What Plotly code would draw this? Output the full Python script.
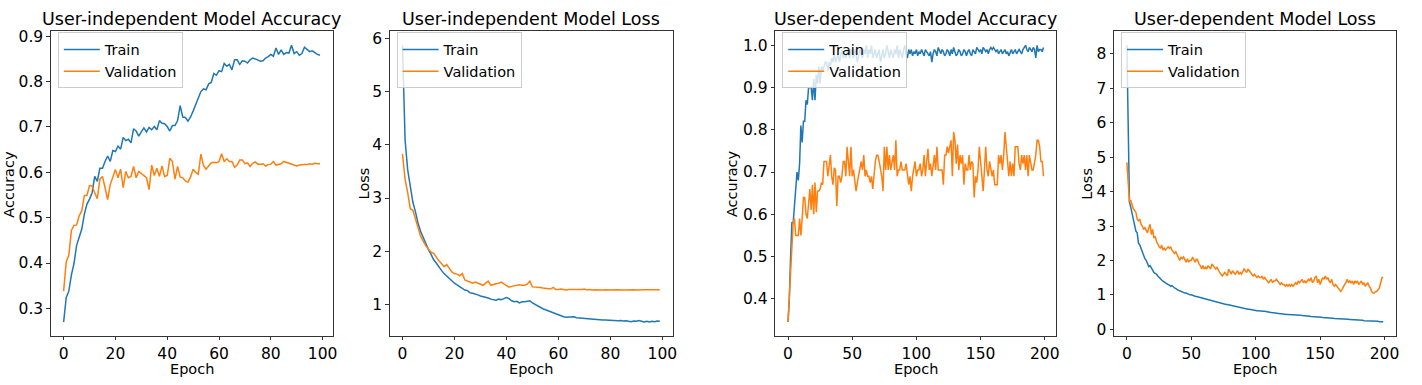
import plotly.graph_objects as go

# ---------------- data ----------------
ui_acc_train = [
    0.270, 0.324, 0.338, 0.374, 0.399, 0.439, 0.457, 0.475, 0.508, 0.530,
    0.541, 0.555, 0.591, 0.580, 0.609, 0.609, 0.624, 0.636, 0.624, 0.648,
    0.646, 0.658, 0.651, 0.677, 0.670, 0.673, 0.665, 0.696, 0.691, 0.680,
    0.689, 0.698, 0.689, 0.699, 0.694, 0.701, 0.694, 0.714, 0.708, 0.707,
    0.701, 0.691, 0.703, 0.703, 0.714, 0.747, 0.722, 0.721, 0.713, 0.722,
    0.735, 0.748, 0.762, 0.778, 0.784, 0.782, 0.795, 0.798, 0.818, 0.814,
    0.824, 0.822, 0.840, 0.834, 0.838, 0.826, 0.848, 0.848, 0.838, 0.846,
    0.845, 0.841, 0.848, 0.852, 0.850, 0.847, 0.845, 0.846, 0.852, 0.855,
    0.860, 0.856, 0.874, 0.860, 0.870, 0.860, 0.864, 0.863, 0.880, 0.862,
    0.866, 0.858, 0.862, 0.876, 0.870, 0.866, 0.868, 0.863, 0.860, 0.858]
ui_acc_val = [
    0.338, 0.403, 0.417, 0.472, 0.483, 0.484, 0.504, 0.515, 0.549, 0.549,
    0.571, 0.570, 0.555, 0.542, 0.585, 0.591, 0.566, 0.540, 0.573, 0.588,
    0.606, 0.588, 0.607, 0.566, 0.602, 0.588, 0.591, 0.613, 0.588, 0.602,
    0.597, 0.593, 0.588, 0.562, 0.616, 0.593, 0.609, 0.591, 0.614, 0.591,
    0.593, 0.631, 0.624, 0.585, 0.613, 0.590, 0.588, 0.581, 0.578, 0.590,
    0.607, 0.600, 0.596, 0.640, 0.615, 0.607, 0.615, 0.621, 0.622, 0.621,
    0.624, 0.641, 0.624, 0.630, 0.624, 0.624, 0.611, 0.616, 0.627, 0.627,
    0.619, 0.621, 0.613, 0.620, 0.623, 0.618, 0.618, 0.619, 0.614, 0.617,
    0.618, 0.624, 0.616, 0.617, 0.619, 0.624, 0.622, 0.620, 0.619, 0.616,
    0.614, 0.616, 0.617, 0.617, 0.617, 0.619, 0.618, 0.620, 0.619, 0.619]

ui_loss_train = [
    5.87, 4.09, 3.53, 3.20, 2.92, 2.74, 2.52, 2.37, 2.25, 2.14,
    2.03, 1.94, 1.84, 1.78, 1.70, 1.64, 1.58, 1.53, 1.48, 1.44,
    1.40, 1.37, 1.34, 1.31, 1.27, 1.26, 1.22, 1.21, 1.20, 1.18,
    1.16, 1.15, 1.13, 1.12, 1.10, 1.09, 1.08, 1.10, 1.09, 1.11,
    1.13, 1.11, 1.07, 1.05, 1.06, 1.03, 1.05, 1.05, 1.06, 1.07,
    1.03, 1.00, 0.97, 0.94, 0.92, 0.90, 0.88, 0.86, 0.84, 0.82,
    0.80, 0.79, 0.77, 0.76, 0.76, 0.76, 0.77, 0.75, 0.745, 0.74,
    0.735, 0.73, 0.725, 0.72, 0.72, 0.715, 0.71, 0.71, 0.71, 0.705,
    0.70, 0.70, 0.70, 0.695, 0.70, 0.69, 0.695, 0.69, 0.675, 0.69,
    0.685, 0.70, 0.69, 0.67, 0.685, 0.67, 0.685, 0.675, 0.69, 0.685]
ui_loss_val = [
    3.83, 3.35, 3.10, 2.80, 2.77, 2.61, 2.43, 2.28, 2.19, 2.10,
    2.04, 1.98, 1.96, 1.88, 1.82, 1.77, 1.71, 1.75, 1.69, 1.61,
    1.58, 1.57, 1.54, 1.58, 1.46, 1.44, 1.42, 1.40, 1.42, 1.40,
    1.39, 1.36, 1.40, 1.44, 1.36, 1.38, 1.39, 1.40, 1.42, 1.385,
    1.36, 1.325, 1.34, 1.35, 1.36, 1.37, 1.36, 1.36, 1.38, 1.44,
    1.33, 1.33, 1.32, 1.32, 1.31, 1.30, 1.30, 1.29, 1.32, 1.28,
    1.28, 1.29, 1.28, 1.27, 1.28, 1.28, 1.27, 1.28, 1.27, 1.28,
    1.29, 1.27, 1.28, 1.27, 1.275, 1.27, 1.275, 1.27, 1.275, 1.27,
    1.275, 1.27, 1.275, 1.27, 1.275, 1.27, 1.27, 1.275, 1.27, 1.275,
    1.27, 1.275, 1.27, 1.275, 1.275, 1.27, 1.275, 1.275, 1.27, 1.275]

ud_acc_train = [
    0.345, 0.40, 0.50, 0.58, 0.58, 0.62, 0.64, 0.70, 0.68, 0.72,
    0.81, 0.77, 0.82, 0.82, 0.87, 0.86, 0.90, 0.90, 0.90, 0.87,
    0.92, 0.87, 0.93, 0.91, 0.95, 0.91, 0.95, 0.94, 0.95, 0.96,
    0.96, 0.94, 0.96, 0.95, 0.97, 0.96, 0.98, 0.96, 0.97, 0.98,
    0.96, 0.98, 0.99, 0.97, 0.98, 0.97, 0.99, 0.98, 0.97, 0.99,
    0.98, 0.97, 0.99, 0.98, 0.96, 0.98, 0.99, 0.98, 0.97, 0.99,
    0.98, 1.00, 0.97, 0.99, 0.98, 1.00, 0.97, 0.98, 0.99, 0.97,
    0.98, 0.99, 0.96, 0.98, 0.99, 0.97, 0.98, 1.00, 0.98, 0.97,
    0.99, 0.98, 0.97, 0.99, 0.98, 1.00, 0.97, 0.99, 0.98, 0.97,
    0.99, 1.00, 0.98, 0.97, 0.99, 0.98, 0.99, 0.975, 0.985, 0.98,
    0.99, 0.975, 0.985, 0.98, 0.99, 0.98, 0.975, 0.99, 0.985, 0.98,
    0.975, 0.985, 0.96, 0.98, 0.99, 0.985, 0.975, 0.995, 0.985, 0.98,
    0.99, 0.985, 0.975, 0.98, 0.99, 0.985, 0.975, 0.99, 0.98, 0.995,
    0.985, 0.975, 0.98, 0.99, 0.985, 0.975, 0.98, 0.99, 0.985, 0.975,
    0.985, 0.99, 0.98, 0.975, 0.99, 0.985, 0.98, 0.995, 0.99, 0.985,
    0.99, 0.98, 0.995, 0.99, 0.985, 0.99, 0.98, 0.99, 0.995, 0.99,
    0.995, 0.99, 0.985, 0.99, 0.98, 0.985, 0.99, 0.98, 0.985, 0.99,
    0.98, 0.985, 0.975, 0.985, 0.99, 0.98, 0.985, 0.99, 0.98, 0.985,
    0.99, 0.985, 0.98, 0.99, 0.995, 1.00, 0.99, 0.985, 0.995, 0.99,
    0.985, 0.995, 0.99, 0.97, 1.00, 0.985, 0.99, 0.99, 0.985, 0.995]
ud_acc_val = [
    0.345, 0.40, 0.46, 0.54, 0.58, 0.59, 0.55, 0.55, 0.55, 0.59,
    0.55, 0.59, 0.64, 0.64, 0.60, 0.59, 0.62, 0.66, 0.61, 0.67,
    0.60, 0.675, 0.605, 0.655, 0.655, 0.66, 0.675, 0.67, 0.725, 0.725,
    0.725, 0.69, 0.72, 0.74, 0.69, 0.67, 0.71, 0.705, 0.62, 0.69,
    0.69, 0.675, 0.69, 0.725, 0.725, 0.69, 0.76, 0.72, 0.69, 0.76,
    0.69, 0.705, 0.675, 0.655, 0.675, 0.69, 0.705, 0.725, 0.705, 0.74,
    0.69, 0.705, 0.69, 0.69, 0.675, 0.69, 0.66, 0.705, 0.725, 0.74,
    0.74, 0.725, 0.705, 0.69, 0.655, 0.76, 0.705, 0.76, 0.705, 0.74,
    0.705, 0.725, 0.74, 0.705, 0.775, 0.69, 0.705, 0.705, 0.725, 0.705,
    0.705, 0.705, 0.72, 0.69, 0.67, 0.69, 0.655, 0.69, 0.705, 0.725,
    0.69, 0.705, 0.705, 0.72, 0.69, 0.705, 0.74, 0.69, 0.725, 0.755,
    0.705, 0.72, 0.69, 0.725, 0.74, 0.705, 0.76, 0.705, 0.705, 0.705,
    0.705, 0.67, 0.74, 0.74, 0.76, 0.745, 0.76, 0.775, 0.69, 0.795,
    0.775, 0.72, 0.765, 0.705, 0.74, 0.72, 0.74, 0.67, 0.72, 0.705,
    0.705, 0.74, 0.705, 0.725, 0.72, 0.64, 0.69, 0.675, 0.705, 0.76,
    0.725, 0.69, 0.655, 0.705, 0.76, 0.705, 0.69, 0.725, 0.705, 0.69,
    0.705, 0.67, 0.67, 0.67, 0.74, 0.72, 0.74, 0.705, 0.74, 0.795,
    0.76, 0.72, 0.69, 0.725, 0.69, 0.72, 0.69, 0.76, 0.76, 0.76,
    0.72, 0.705, 0.74, 0.72, 0.74, 0.705, 0.74, 0.69, 0.74, 0.72,
    0.705, 0.705, 0.72, 0.74, 0.775, 0.775, 0.76, 0.725, 0.725, 0.69]

ud_loss_train = [
    8.25, 5.50, 3.69, 3.55, 3.35, 3.15, 3.00, 2.85, 2.80, 2.50,
    2.45, 2.35, 2.25, 2.10, 2.05, 2.00, 1.90, 1.82, 1.85, 1.78,
    1.72, 1.65, 1.62, 1.60, 1.55, 1.50, 1.45, 1.43, 1.40, 1.37,
    1.35, 1.32, 1.30, 1.28, 1.25, 1.27, 1.22, 1.20, 1.18, 1.15,
    1.13, 1.12, 1.10, 1.08, 1.07, 1.05, 1.05, 1.03, 1.02, 1.00,
    1.00, 0.98, 0.97, 0.96, 0.95, 0.94, 0.93, 0.92, 0.90, 0.89,
    0.88, 0.87, 0.86, 0.85, 0.84, 0.83, 0.82, 0.80, 0.80, 0.79,
    0.78, 0.77, 0.76, 0.76, 0.75, 0.74, 0.73, 0.72, 0.72, 0.71,
    0.70, 0.70, 0.69, 0.68, 0.67, 0.66, 0.65, 0.64, 0.63, 0.62,
    0.61, 0.61, 0.60, 0.59, 0.58, 0.58, 0.57, 0.56, 0.56, 0.55,
    0.55, 0.54, 0.54, 0.53, 0.53, 0.53, 0.52, 0.52, 0.51, 0.51,
    0.50, 0.50, 0.49, 0.48, 0.48, 0.47, 0.47, 0.46, 0.46, 0.45,
    0.45, 0.44, 0.44, 0.44, 0.43, 0.43, 0.43, 0.42, 0.42, 0.42,
    0.42, 0.41, 0.41, 0.41, 0.41, 0.41, 0.40, 0.40, 0.39, 0.39,
    0.38, 0.38, 0.38, 0.37, 0.37, 0.37, 0.36, 0.36, 0.36, 0.35,
    0.36, 0.35, 0.34, 0.34, 0.33, 0.33, 0.33, 0.32, 0.32, 0.32,
    0.32, 0.31, 0.31, 0.31, 0.30, 0.30, 0.30, 0.30, 0.29, 0.29,
    0.29, 0.29, 0.29, 0.28, 0.28, 0.28, 0.27, 0.27, 0.27, 0.27,
    0.26, 0.26, 0.26, 0.26, 0.25, 0.25, 0.25, 0.25, 0.24, 0.24,
    0.24, 0.24, 0.23, 0.23, 0.23, 0.23, 0.22, 0.22, 0.21, 0.22]
ud_loss_val = [
    4.85, 4.30, 3.70, 3.75, 3.60, 3.50, 3.45, 3.40, 3.20, 3.15,
    3.20, 3.05, 3.00, 2.90, 2.95, 2.85, 2.80, 2.95, 3.05, 2.75,
    2.90, 2.65, 2.70, 2.55, 2.45, 2.40, 2.35, 2.45, 2.30, 2.35,
    2.30, 2.35, 2.40, 2.35, 2.40, 2.30, 2.25, 2.20, 2.25, 2.15,
    2.10, 2.00, 2.10, 2.05, 2.10, 2.00, 1.95, 2.05, 1.95, 2.00,
    2.00, 2.10, 2.00, 1.95, 2.05, 2.00, 1.90, 1.85, 1.75, 1.85,
    1.75, 1.80, 1.75, 1.85, 1.80, 1.75, 1.90, 1.85, 1.80, 1.75,
    1.80, 1.70, 1.65, 1.60, 1.55, 1.60, 1.65, 1.60, 1.55, 1.75,
    1.65, 1.60, 1.70, 1.65, 1.60, 1.65, 1.70, 1.60, 1.65, 1.60,
    1.70, 1.75, 1.70, 1.65, 1.75, 1.70, 1.65, 1.60, 1.55, 1.60,
    1.55, 1.50, 1.55, 1.50, 1.50, 1.55, 1.45, 1.50, 1.45, 1.40,
    1.35, 1.40, 1.45, 1.35, 1.40, 1.40, 1.45, 1.40, 1.35, 1.30,
    1.35, 1.30, 1.30, 1.25, 1.30, 1.25, 1.30, 1.25, 1.30, 1.25,
    1.30, 1.35, 1.30, 1.40, 1.35, 1.40, 1.45, 1.35, 1.40, 1.35,
    1.40, 1.45, 1.40, 1.50, 1.35, 1.40, 1.50, 1.55, 1.35, 1.45,
    1.30, 1.40, 1.50, 1.45, 1.55, 1.45, 1.50, 1.40, 1.35, 1.45,
    1.30, 1.25, 1.30, 1.25, 1.20, 1.15, 1.10, 1.15, 1.25, 1.30,
    1.35, 1.45, 1.35, 1.40, 1.35, 1.40, 1.30, 1.40, 1.35, 1.40,
    1.30, 1.35, 1.40, 1.30, 1.35, 1.25, 1.30, 1.35, 1.25, 1.20,
    1.10, 1.05, 1.05, 1.10, 1.10, 1.15, 1.20, 1.35, 1.50, 1.50]

titles = ["User-independent Model Accuracy", "User-independent Model Loss",
          "User-dependent Model Accuracy", "User-dependent Model Loss"]
y_labels = ["Accuracy", "Loss", "Accuracy", "Loss"]
x_label = "Epoch"
series_names = ["Train", "Validation"]
x_tickvals = [[0, 20, 40, 60, 80, 100], [0, 20, 40, 60, 80, 100],
              [0, 50, 100, 150, 200], [0, 50, 100, 150, 200]]
y_tickvals = [[0.3, 0.4, 0.5, 0.6, 0.7, 0.8, 0.9], [1, 2, 3, 4, 5, 6],
              [0.4, 0.5, 0.6, 0.7, 0.8, 0.9, 1.0], [0, 1, 2, 3, 4, 5, 6, 7, 8]]
y_tickformats = [".1f", "d", ".1f", "d"]

# ---------------- layout ----------------
W, H = 1422, 385


def px_x(p):
    return p / W


def px_y(p):
    return 1 - p / H


x_dom_px = [(51, 334), (391, 675), (778, 1060), (1118, 1401)]
y_top_px, y_bot_px = 28, 338
ylabel_x_px = [9, 365, 734, 1091]
FONT = "DejaVu Sans"
C_TRAIN, C_VAL = "#1f77b4", "#ff7f0e"

panels = [(ui_acc_train, ui_acc_val), (ui_loss_train, ui_loss_val),
          (ud_acc_train, ud_acc_val), (ud_loss_train, ud_loss_val)]

fig = go.Figure()
layout = dict(width=W, height=H, margin=dict(l=0, r=0, t=0, b=0),
              paper_bgcolor="white", plot_bgcolor="white",
              font=dict(family=FONT, size=14, color="black"))
annotations = []

for i, (tr, va) in enumerate(panels):
    sfx = "" if i == 0 else str(i + 1)
    ep = list(range(len(tr)))
    lg = "legend" + sfx
    fig.add_trace(go.Scatter(x=ep, y=tr, mode="lines", name=series_names[0],
                             line=dict(color=C_TRAIN, width=1.5),
                             xaxis="x" + sfx, yaxis="y" + sfx, legend=lg))
    fig.add_trace(go.Scatter(x=ep, y=va, mode="lines", name=series_names[1],
                             line=dict(color=C_VAL, width=1.5),
                             xaxis="x" + sfx, yaxis="y" + sfx, legend=lg))
    n = len(tr)
    xpad = 0.05 * (n - 1)
    lo = min(min(tr), min(va)); hi = max(max(tr), max(va))
    ypad = 0.05 * (hi - lo)
    l, r = x_dom_px[i]
    axis_common = dict(showline=True, linecolor="#333", linewidth=1, mirror=True,
                       ticks="outside", ticklen=3.5, tickwidth=1, tickcolor="#333",
                       showgrid=False, zeroline=False,
                       tickfont=dict(family=FONT, size=15.5, color="black"))
    layout["xaxis" + sfx] = dict(domain=[px_x(l), px_x(r)], anchor="y" + sfx,
                                 range=[-xpad, n - 1 + xpad],
                                 tickvals=x_tickvals[i], **axis_common)
    layout["yaxis" + sfx] = dict(domain=[px_y(y_bot_px), px_y(y_top_px)],
                                 anchor="x" + sfx, range=[lo - ypad, hi + ypad],
                                 tickvals=y_tickvals[i], tickformat=y_tickformats[i],
                                 **axis_common)
    layout[lg] = dict(x=px_x(l + 7), y=px_y(29), xanchor="left", yanchor="top",
                      bgcolor="rgba(255,255,255,0.8)", bordercolor="#cccccc",
                      borderwidth=1, itemwidth=36,
                      font=dict(family=FONT, size=14.5, color="black"),
                      tracegroupgap=0)
    annotations.append(dict(text=titles[i], x=px_x((l + r) / 2), y=px_y(15),
                            xref="paper", yref="paper", showarrow=False,
                            xanchor="center", yanchor="middle",
                            font=dict(family=FONT, size=17.5, color="black")))
    annotations.append(dict(text=x_label, x=px_x((l + r) / 2), y=px_y(372),
                            xref="paper", yref="paper", showarrow=False,
                            xanchor="center", yanchor="middle",
                            font=dict(family=FONT, size=14.5, color="black")))
    annotations.append(dict(text=y_labels[i], x=px_x(ylabel_x_px[i]),
                            y=px_y((y_top_px + y_bot_px) / 2),
                            xref="paper", yref="paper", showarrow=False,
                            xanchor="center", yanchor="middle", textangle=-90,
                            font=dict(family=FONT, size=14.5, color="black")))

layout["annotations"] = annotations
fig.update_layout(**layout)
fig.write_html("out.html",
               config={"displayModeBar": False},
               post_script="document.body.style.margin='0';"
                           "document.body.style.overflow='hidden';")
